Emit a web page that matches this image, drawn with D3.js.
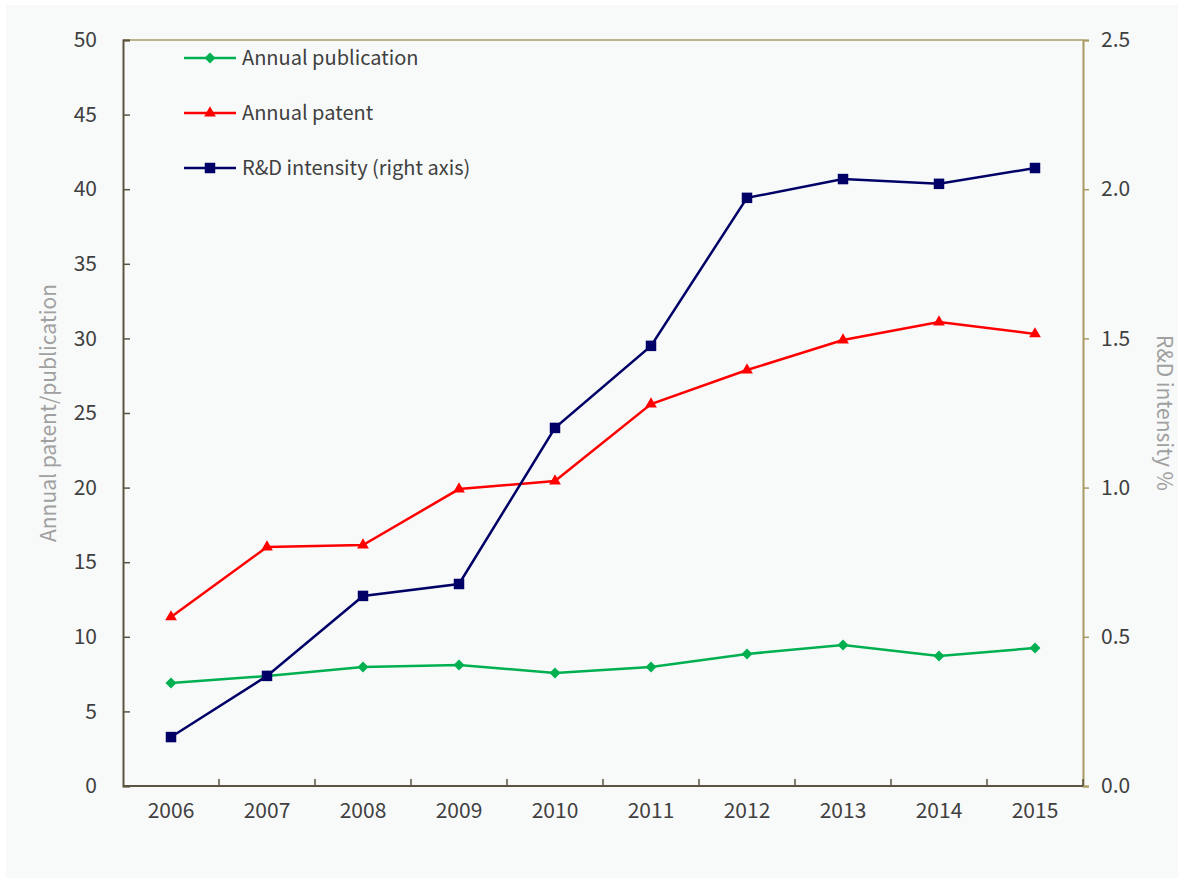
<!DOCTYPE html>
<html>
<head>
<meta charset="utf-8">
<script src="https://cdn.jsdelivr.net/npm/d3@7"></script>
<style>
  body { margin: 0; background: #fff; }
  svg { display: block; font-family: "Noto Sans CJK SC", "Noto Sans", sans-serif; }
</style>
</head>
<body>
<svg id="chart" width="1184" height="880"></svg>
<script>
const years = ['2006', '2007', '2008', '2009', '2010', '2011', '2012', '2013', '2014', '2015'];
const publication = [6.9, 7.37, 7.98, 8.11, 7.57, 7.98, 8.85, 9.45, 8.71, 9.25];
const patent = [11.33, 16.02, 16.15, 19.9, 20.44, 25.6, 27.88, 29.89, 31.1, 30.3];
const rdIntensity = [0.164, 0.369, 0.637, 0.677, 1.2, 1.475, 1.971, 2.034, 2.018, 2.071];
const leftTicks = [0, 5, 10, 15, 20, 25, 30, 35, 40, 45, 50];
const rightTicks = [0, 0.5, 1.0, 1.5, 2.0, 2.5];

const margin = {top: 40, right: 101, bottom: 94, left: 123};
const width = 1184 - margin.left - margin.right;
const height = 880 - margin.top - margin.bottom;
const FONT = '"Noto Sans CJK SC", "Noto Sans", sans-serif';

const svg = d3.select('#chart');
svg.append('rect')
   .attr('x', 6).attr('y', 5).attr('width', 1172).attr('height', 873)
   .attr('fill', '#f8fafa');

const g = svg.append('g')
             .attr('transform', 'translate(' + margin.left + ',' + margin.top + ')');

const x = d3.scaleBand().domain(years).range([0, width]);
const yLeft = d3.scaleLinear().domain([0, 50]).range([height, 0]);
const yRight = d3.scaleLinear().domain([0, 2.5]).range([height, 0]);

// top border
g.append('line')
 .attr('x1', 0).attr('x2', width).attr('y1', 0).attr('y2', 0)
 .attr('stroke', '#a89a60').attr('stroke-width', 1.5);

// right axis
const rightAxis = g.append('g')
   .attr('transform', 'translate(' + width + ',0)')
   .call(d3.axisRight(yRight).tickValues(rightTicks).tickFormat(d3.format('.1f'))
           .tickSize(6).tickPadding(12));
rightAxis.attr('font-family', FONT);
rightAxis.select('.domain').attr('stroke', '#a89a60').attr('stroke-width', 2);
rightAxis.selectAll('.tick line').attr('stroke', '#a89a60').attr('stroke-width', 1.5);
rightAxis.selectAll('text').attr('fill', '#404040').style('font-size', '21px');

// left axis
const leftAxis = g.append('g')
   .call(d3.axisLeft(yLeft).tickValues(leftTicks).tickSize(-7).tickPadding(26));
leftAxis.attr('font-family', FONT);
leftAxis.select('.domain').attr('stroke', '#5c5441').attr('stroke-width', 2);
leftAxis.selectAll('.tick line').attr('stroke', '#5c5441').attr('stroke-width', 1.5);
leftAxis.selectAll('text').attr('fill', '#404040').style('font-size', '21px');

// bottom axis with ticks at band boundaries
const bottom = g.append('g').attr('transform', 'translate(0,' + height + ')');
bottom.append('line')
      .attr('x1', 0).attr('x2', width)
      .attr('stroke', '#5c5441').attr('stroke-width', 2);
bottom.selectAll('.bt')
      .data(years.slice(1).concat(['end']))
      .enter().append('line')
      .attr('x1', (d, i) => x.bandwidth() * (i + 1))
      .attr('x2', (d, i) => x.bandwidth() * (i + 1))
      .attr('y1', 0).attr('y2', -7)
      .attr('stroke', '#5c5441').attr('stroke-width', 1.5);
bottom.selectAll('.xl')
      .data(years)
      .enter().append('text')
      .attr('x', d => x(d) + x.bandwidth() / 2)
      .attr('y', 32)
      .attr('text-anchor', 'middle')
      .attr('fill', '#404040')
      .style('font-size', '21px')
      .text(d => d);

// axis titles
svg.append('text')
   .attr('transform', 'translate(56,' + (margin.top + height / 2) + ') rotate(-90)')
   .attr('text-anchor', 'middle')
   .attr('fill', '#a0a0a0')
   .style('font-size', '21px')
   .text('Annual patent/publication');
svg.append('text')
   .attr('transform', 'translate(1157,' + (margin.top + height / 2) + ') rotate(90)')
   .attr('text-anchor', 'middle')
   .attr('fill', '#a0a0a0')
   .style('font-size', '21px')
   .text('R&D intensity %');

const cx = d => x(d) + x.bandwidth() / 2;

const series = [
  {label: 'Annual publication', values: publication, scale: yLeft, color: '#00b050', symbol: d3.symbolSquare, size: 60, rotate: 45},
  {label: 'Annual patent', values: patent, scale: yLeft, color: '#ff0000', symbol: d3.symbolTriangle, size: 60, rotate: 0},
  {label: 'R&D intensity (right axis)', values: rdIntensity, scale: yRight, color: '#000066', symbol: d3.symbolSquare, size: 110, rotate: 0},
];

series.forEach(s => {
  const line = d3.line()
                 .x((d, i) => cx(years[i]))
                 .y(d => s.scale(d));
  g.append('path')
   .datum(s.values)
   .attr('fill', 'none')
   .attr('stroke', s.color)
   .attr('stroke-width', 2.5)
   .attr('d', line);
  g.selectAll(null)
   .data(s.values)
   .enter().append('path')
   .attr('transform', (d, i) => 'translate(' + cx(years[i]) + ',' + s.scale(d) + ') rotate(' + s.rotate + ')')
   .attr('d', d3.symbol().type(s.symbol).size(s.size))
   .attr('fill', s.color);
});

// legend
const legend = svg.append('g')
   .selectAll('g')
   .data(series)
   .enter().append('g')
   .attr('transform', (d, i) => 'translate(184,' + (58 + i * 55) + ')');
legend.append('line')
      .attr('x1', 0).attr('x2', 52)
      .attr('stroke', d => d.color).attr('stroke-width', 2.5);
legend.append('path')
      .attr('transform', d => 'translate(26,0) rotate(' + d.rotate + ')')
      .attr('d', d => d3.symbol().type(d.symbol).size(d.size)())
      .attr('fill', d => d.color);
legend.append('text')
      .attr('x', 58)
      .attr('dy', '0.35em')
      .attr('fill', '#404040')
      .style('font-size', '20px')
      .text(d => d.label);
</script>
</body>
</html>
